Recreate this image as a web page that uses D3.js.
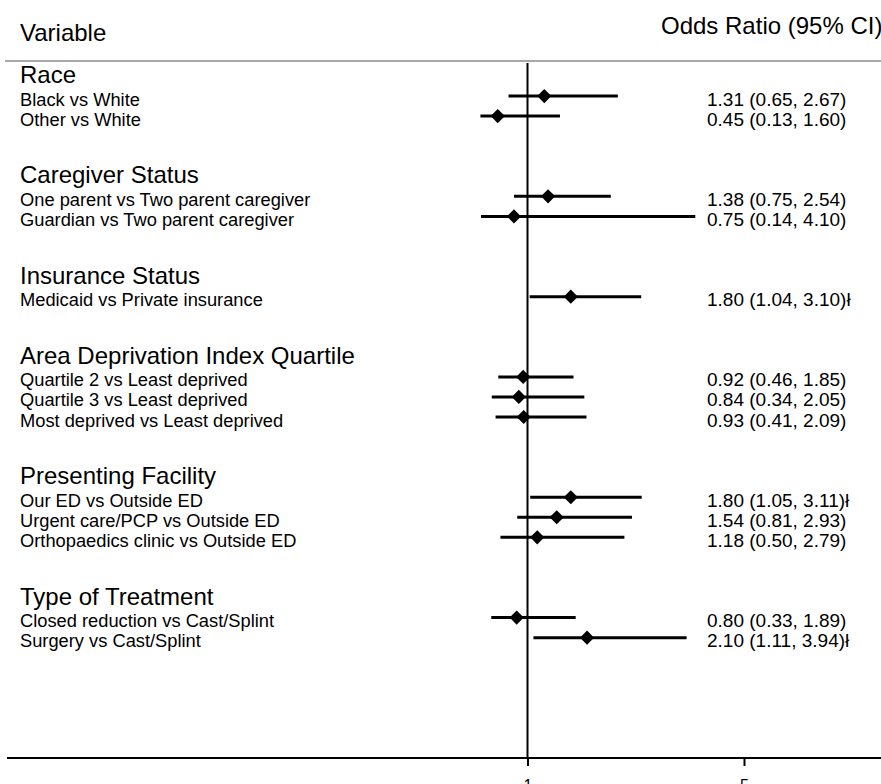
<!DOCTYPE html>
<html>
<head>
<meta charset="utf-8">
<script src="https://cdn.jsdelivr.net/npm/d3@7"></script>
<style>
  html, body { margin: 0; padding: 0; background: #fff; overflow: hidden; }
  svg { display: block; font-family: "Liberation Sans", Arial, Helvetica, sans-serif; }
</style>
</head>
<body>
<svg id="chart" width="881" height="784"></svg>
<script>
// ---- Data ----
const groupNames = ["Race", "Caregiver Status", "Insurance Status", "Area Deprivation Index Quartile", "Presenting Facility", "Type of Treatment"];
const rowGroup = [0, 0, 1, 1, 2, 3, 3, 3, 4, 4, 4, 5, 5];
const rowLabels = [
  "Black vs White", "Other vs White",
  "One parent vs Two parent caregiver", "Guardian vs Two parent caregiver",
  "Medicaid vs Private insurance",
  "Quartile 2 vs Least deprived", "Quartile 3 vs Least deprived", "Most deprived vs Least deprived",
  "Our ED vs Outside ED", "Urgent care/PCP vs Outside ED", "Orthopaedics clinic vs Outside ED",
  "Closed reduction vs Cast/Splint", "Surgery vs Cast/Splint"
];
const oddsRatio = [1.31, 0.45, 1.38, 0.75, 1.80, 0.92, 0.84, 0.93, 1.80, 1.54, 1.18, 0.80, 2.10];
const ciLow     = [0.65, 0.13, 0.75, 0.14, 1.04, 0.46, 0.34, 0.41, 1.05, 0.81, 0.50, 0.33, 1.11];
const ciHigh    = [2.67, 1.60, 2.54, 4.10, 3.10, 1.85, 2.05, 2.09, 3.11, 2.93, 2.79, 1.89, 3.94];
const significant = [false, false, false, false, true, false, false, false, true, false, false, false, true];
const xTicks = [1, 5];
const sigMark = "ł";

// ---- Layout ----
const svg = d3.select("#chart");
const W = 881;

// slots: group header, rows, two blank slots between groups
const slotOfRow = [];
const slotOfGroup = [];
let slot = 0;
groupNames.forEach((g, gi) => {
  slotOfGroup.push(slot);
  slot++;
  rowGroup.forEach((rg, ri) => { if (rg === gi) { slotOfRow[ri] = slot; slot++; } });
  slot += 2;
});
const axisSlot = slot + 3; // 34

const y = d3.scaleLinear().domain([0, axisSlot]).range([76, 758]);
const x = d3.scaleLinear().domain([1, 5]).range([527.5, 744]);

// Titles
svg.append("text").attr("x", 20).attr("y", 41).attr("font-size", 24).text("Variable");
svg.append("text").attr("x", 661).attr("y", 34).attr("font-size", 24).text("Odds Ratio (95% CI)");

// gray separator line
svg.append("line").attr("x1", 5).attr("x2", W).attr("y1", 61).attr("y2", 61)
  .attr("stroke", "#a8a8a8").attr("stroke-width", 2);

// reference line at OR = 1
svg.append("line").attr("x1", x(1)).attr("x2", x(1)).attr("y1", 63).attr("y2", y(axisSlot))
  .attr("stroke", "#000").attr("stroke-width", 2);

// x axis
const axisG = svg.append("g").attr("transform", `translate(0,${y(axisSlot)})`);
axisG.append("line").attr("x1", 7).attr("x2", W).attr("y1", 0).attr("y2", 0)
  .attr("stroke", "#000").attr("stroke-width", 2);
const axis = d3.axisBottom(x).tickValues(xTicks).tickFormat(d3.format("d")).tickSize(8).tickPadding(14);
const ag = axisG.append("g").call(axis);
ag.select(".domain").remove();
ag.selectAll(".tick line").attr("stroke", "#000").attr("stroke-width", 2);
ag.selectAll(".tick text").attr("font-size", 16).attr("font-family", "Liberation Sans, Arial, sans-serif").attr("fill", "#000");

// group headers
svg.append("g").selectAll("text").data(groupNames).join("text")
  .attr("x", 20)
  .attr("y", (d, i) => y(slotOfGroup[i]) + 7)
  .attr("font-size", 24)
  .text(d => d);

// row labels
svg.append("g").selectAll("text").data(rowLabels).join("text")
  .attr("x", 20)
  .attr("y", (d, i) => y(slotOfRow[i]) + 9.5)
  .attr("font-size", 18.3)
  .text(d => d);

// CI lines
svg.append("g").selectAll("line").data(oddsRatio).join("line")
  .attr("x1", (d, i) => x(ciLow[i]))
  .attr("x2", (d, i) => x(ciHigh[i]))
  .attr("y1", (d, i) => y(slotOfRow[i]))
  .attr("y2", (d, i) => y(slotOfRow[i]))
  .attr("stroke", "#000").attr("stroke-width", 3);

// diamonds
const diamond = d3.symbol().type(d3.symbolSquare).size(100);
svg.append("g").selectAll("path").data(oddsRatio).join("path")
  .attr("d", diamond)
  .attr("transform", (d, i) => `translate(${x(d)},${y(slotOfRow[i])}) rotate(45)`)
  .attr("fill", "#000");

// OR text
const f2 = d3.format(".2f");
svg.append("g").selectAll("text").data(oddsRatio).join("text")
  .attr("x", 707)
  .attr("y", (d, i) => y(slotOfRow[i]) + 9.5)
  .attr("font-size", 19)
  .text((d, i) => `${f2(d)} (${f2(ciLow[i])}, ${f2(ciHigh[i])})${significant[i] ? sigMark : ""}`);
</script>
</body>
</html>
